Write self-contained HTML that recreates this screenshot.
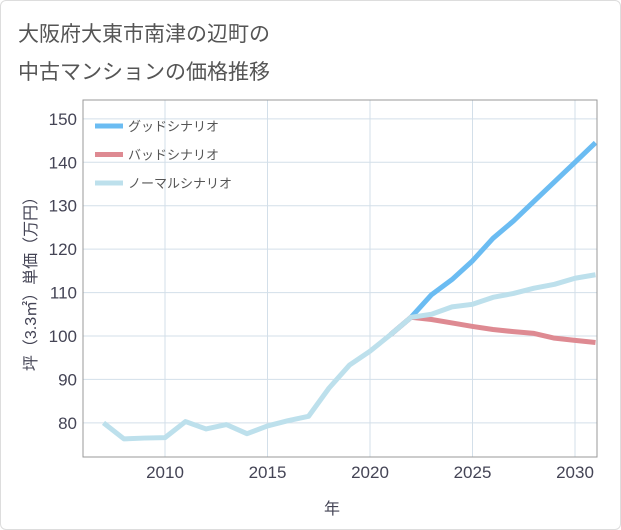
<!DOCTYPE html>
<html><head><meta charset="utf-8"><style>
body{margin:0;background:#fff;}
#card{position:absolute;left:0;top:0;width:619px;height:528px;border:1px solid #ddd;border-radius:6px;background:#fff;}
.t{font-family:"Liberation Sans","Noto Sans CJK JP",sans-serif;}
</style></head><body>
<div id="card"></div>
<svg width="621" height="530" style="position:absolute;left:0;top:0" class="t" id="svg">
<text x="18" y="41" font-size="21" fill="#555">大阪府大東市南津の辺町の</text>
<text x="18" y="79" font-size="21" fill="#555">中古マンションの価格推移</text>
<text transform="translate(36,280) rotate(-90)" text-anchor="middle" font-size="16" fill="#445">坪（3.3㎡）単価（万円）</text>
<text x="332" y="514" text-anchor="middle" font-size="16" fill="#445">年</text>
<g id="grid"></g><g id="lines"></g><g id="legend"></g>
<rect x="83" y="100" width="514" height="357" fill="none" stroke="#999" stroke-width="1"/>
</svg>
<script>
const years=[2007,2008,2009,2010,2011,2012,2013,2014,2015,2016,2017,2018,2019,2020,2021,2022,2023,2024,2025,2026,2027,2028,2029,2030,2031];
const normal=[80,76.3,76.5,76.6,80.3,78.6,79.6,77.5,79.3,80.5,81.5,88,93.3,96.5,100.3,104.3,105,106.7,107.3,108.9,109.8,111,111.9,113.3,114.1];
const goodYears=[2021,2022,2023,2024,2025,2026,2027,2028,2029,2030,2031];
const good=[100.3,104.3,109.5,113,117.3,122.5,126.5,131,135.5,140,144.5];
const bad=[100.3,104.3,103.8,103,102.2,101.5,101,100.6,99.5,99,98.5];
const yTicks=[80,90,100,110,120,130,140,150];
const xTicks=[2010,2015,2020,2025,2030];
const NS="http://www.w3.org/2000/svg";
const X=v=>165+(v-2010)*20.5, Y=v=>336-(v-100)*4.343;
function mk(tag,attrs,parent){const e=document.createElementNS(NS,tag);for(const k in attrs)e.setAttribute(k,attrs[k]);parent.appendChild(e);return e;}
const grid=document.getElementById('grid'),lines=document.getElementById('lines'),lg=document.getElementById('legend');
yTicks.forEach(v=>{
 const l=mk('line',{x1:83,x2:597,y1:Y(v),y2:Y(v),stroke:'#d3dfe9','stroke-width':1},grid);
 
 
 const t=mk('text',{x:77,y:Y(v)+6,'text-anchor':'end','font-size':17,fill:'#445'},grid);t.textContent=v;
 
 
});
xTicks.forEach(v=>{
 const l=mk('line',{x1:X(v),x2:X(v),y1:100,y2:457,stroke:'#d3dfe9','stroke-width':1},grid);
 
 
 const t=mk('text',{x:X(v),y:478,'text-anchor':'middle','font-size':17,fill:'#445'},grid);t.textContent=v;
 
 
});
function path(xs,ys,color,name){
 const d=xs.map((x,i)=>(i?'L':'M')+X(x)+','+Y(ys[i])).join(' ');
 const p=mk('path',{d:d,fill:'none',stroke:color,'stroke-width':5,'stroke-linejoin':'round'},lines);
 
 
}
path(goodYears,good,'#6bbcf2','good-scenario-line');
path(goodYears,bad,'#de8a92','bad-scenario-line');
path(years,normal,'#bde0ec','normal-scenario-line');
[['グッドシナリオ','#6bbcf2'],['バッドシナリオ','#de8a92'],['ノーマルシナリオ','#bde0ec']].forEach((e,i)=>{
 const y=126+i*28.5;
 const l=mk('line',{x1:95,x2:123,y1:y,y2:y,stroke:e[1],'stroke-width':5},lg);
 
 
 const t=mk('text',{x:128,y:y+5,'font-size':13,fill:'#555'},lg);t.textContent=e[0];
 
 
});
</script>
</body></html>
